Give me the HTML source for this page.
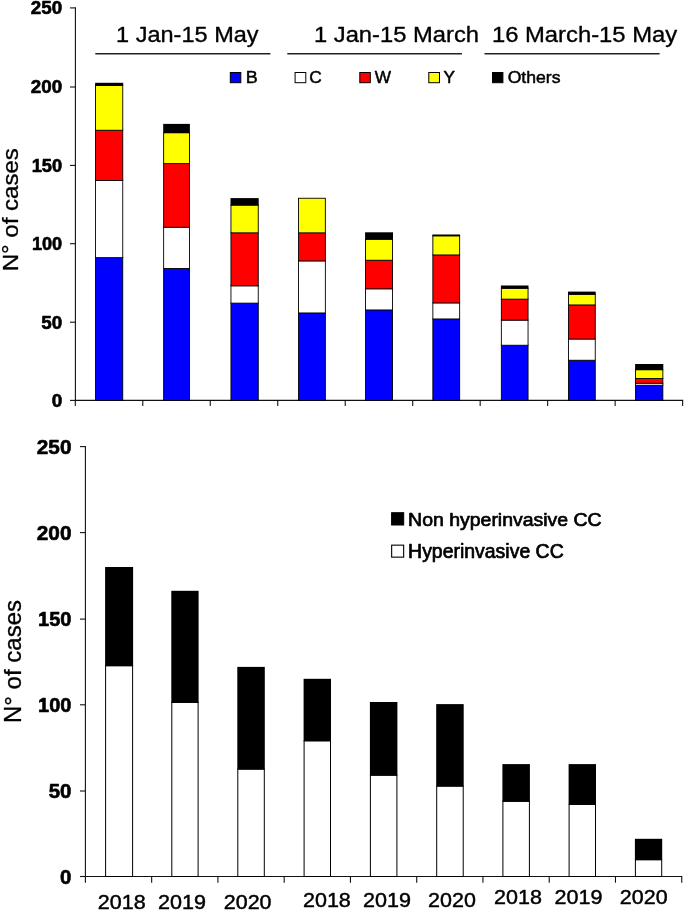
<!DOCTYPE html>
<html><head><meta charset="utf-8"><title>Cases chart</title>
<style>
html,body{margin:0;padding:0;background:#fff;}
svg{display:block;}
text{font-family:"Liberation Sans",sans-serif;fill:#000;stroke:#000;stroke-linejoin:round;}
</style></head><body>
<svg width="685" height="911" viewBox="0 0 685 911">
<rect x="0" y="0" width="685" height="911" fill="#fff"/>
<line x1="75.40" y1="7.30" x2="75.40" y2="401.00" stroke="#111" stroke-width="1.1"/>
<line x1="74.80" y1="400.40" x2="683.20" y2="400.40" stroke="#111" stroke-width="1.1"/>
<line x1="75.30" y1="400.40" x2="75.30" y2="406.00" stroke="#111" stroke-width="1.1"/>
<line x1="142.78" y1="400.40" x2="142.78" y2="406.00" stroke="#111" stroke-width="1.1"/>
<line x1="210.26" y1="400.40" x2="210.26" y2="406.00" stroke="#111" stroke-width="1.1"/>
<line x1="277.74" y1="400.40" x2="277.74" y2="406.00" stroke="#111" stroke-width="1.1"/>
<line x1="345.22" y1="400.40" x2="345.22" y2="406.00" stroke="#111" stroke-width="1.1"/>
<line x1="412.70" y1="400.40" x2="412.70" y2="406.00" stroke="#111" stroke-width="1.1"/>
<line x1="480.18" y1="400.40" x2="480.18" y2="406.00" stroke="#111" stroke-width="1.1"/>
<line x1="547.66" y1="400.40" x2="547.66" y2="406.00" stroke="#111" stroke-width="1.1"/>
<line x1="615.14" y1="400.40" x2="615.14" y2="406.00" stroke="#111" stroke-width="1.1"/>
<line x1="682.62" y1="400.40" x2="682.62" y2="406.00" stroke="#111" stroke-width="1.1"/>
<line x1="70.00" y1="7.90" x2="75.40" y2="7.90" stroke="#111" stroke-width="1.1"/>
<text transform="translate(30.84,14.20) scale(1.0436,1)" font-size="18.00" font-weight="bold" stroke-width="0.6">250</text>
<line x1="70.00" y1="87.00" x2="75.40" y2="87.00" stroke="#111" stroke-width="1.1"/>
<text transform="translate(30.84,93.30) scale(1.0436,1)" font-size="18.00" font-weight="bold" stroke-width="0.6">200</text>
<line x1="70.00" y1="165.40" x2="75.40" y2="165.40" stroke="#111" stroke-width="1.1"/>
<text transform="translate(31.70,171.70) scale(1.0141,1)" font-size="18.00" font-weight="bold" stroke-width="0.6">150</text>
<line x1="70.00" y1="243.70" x2="75.40" y2="243.70" stroke="#111" stroke-width="1.1"/>
<text transform="translate(31.91,250.00) scale(1.0070,1)" font-size="18.00" font-weight="bold" stroke-width="0.6">100</text>
<line x1="70.00" y1="322.20" x2="75.40" y2="322.20" stroke="#111" stroke-width="1.1"/>
<text transform="translate(41.24,328.50) scale(1.0462,1)" font-size="18.00" font-weight="bold" stroke-width="0.6">50</text>
<line x1="70.00" y1="400.40" x2="75.40" y2="400.40" stroke="#111" stroke-width="1.1"/>
<text transform="translate(51.64,406.70) scale(1.0538,1)" font-size="18.00" font-weight="bold" stroke-width="0.6">0</text>
<text transform="translate(18.20,271.27) rotate(-90) scale(1.0916,1)" font-size="22.03" stroke-width="0.3">N° of cases</text>
<rect x="95.55" y="257.55" width="27.20" height="142.90" fill="#0000ff" stroke="#000" stroke-width="0.9"/>
<rect x="95.55" y="180.35" width="27.20" height="77.30" fill="#ffffff" stroke="#000" stroke-width="0.9"/>
<rect x="95.55" y="130.15" width="27.20" height="50.30" fill="#ff0000" stroke="#000" stroke-width="0.9"/>
<rect x="95.55" y="85.35" width="27.20" height="44.90" fill="#ffff00" stroke="#000" stroke-width="0.9"/>
<rect x="95.10" y="82.80" width="28.10" height="3.10" fill="#000"/>
<rect x="163.65" y="268.35" width="25.80" height="132.10" fill="#0000ff" stroke="#000" stroke-width="0.9"/>
<rect x="163.65" y="227.15" width="25.80" height="41.30" fill="#ffffff" stroke="#000" stroke-width="0.9"/>
<rect x="163.65" y="163.55" width="25.80" height="63.70" fill="#ff0000" stroke="#000" stroke-width="0.9"/>
<rect x="163.65" y="132.65" width="25.80" height="31.00" fill="#ffff00" stroke="#000" stroke-width="0.9"/>
<rect x="163.20" y="123.90" width="26.70" height="9.30" fill="#000"/>
<rect x="230.95" y="303.05" width="27.30" height="97.40" fill="#0000ff" stroke="#000" stroke-width="0.9"/>
<rect x="230.95" y="285.75" width="27.30" height="17.40" fill="#ffffff" stroke="#000" stroke-width="0.9"/>
<rect x="230.95" y="232.75" width="27.30" height="53.10" fill="#ff0000" stroke="#000" stroke-width="0.9"/>
<rect x="230.95" y="205.05" width="27.30" height="27.80" fill="#ffff00" stroke="#000" stroke-width="0.9"/>
<rect x="230.50" y="198.10" width="28.20" height="7.50" fill="#000"/>
<rect x="298.55" y="312.85" width="26.80" height="87.60" fill="#0000ff" stroke="#000" stroke-width="0.9"/>
<rect x="298.55" y="260.85" width="26.80" height="52.10" fill="#ffffff" stroke="#000" stroke-width="0.9"/>
<rect x="298.55" y="232.75" width="26.80" height="28.20" fill="#ff0000" stroke="#000" stroke-width="0.9"/>
<rect x="298.55" y="198.25" width="26.80" height="34.60" fill="#ffff00" stroke="#000" stroke-width="0.9"/>
<rect x="365.55" y="309.85" width="27.00" height="90.60" fill="#0000ff" stroke="#000" stroke-width="0.9"/>
<rect x="365.55" y="288.75" width="27.00" height="21.20" fill="#ffffff" stroke="#000" stroke-width="0.9"/>
<rect x="365.55" y="260.15" width="27.00" height="28.70" fill="#ff0000" stroke="#000" stroke-width="0.9"/>
<rect x="365.55" y="239.25" width="27.00" height="21.00" fill="#ffff00" stroke="#000" stroke-width="0.9"/>
<rect x="365.10" y="232.30" width="27.90" height="7.50" fill="#000"/>
<rect x="432.85" y="318.85" width="26.80" height="81.60" fill="#0000ff" stroke="#000" stroke-width="0.9"/>
<rect x="432.85" y="302.85" width="26.80" height="16.10" fill="#ffffff" stroke="#000" stroke-width="0.9"/>
<rect x="432.85" y="254.85" width="26.80" height="48.10" fill="#ff0000" stroke="#000" stroke-width="0.9"/>
<rect x="432.85" y="235.75" width="26.80" height="19.20" fill="#ffff00" stroke="#000" stroke-width="0.9"/>
<rect x="432.40" y="234.50" width="27.70" height="1.80" fill="#000"/>
<rect x="501.35" y="345.15" width="26.70" height="55.30" fill="#0000ff" stroke="#000" stroke-width="0.9"/>
<rect x="501.35" y="320.05" width="26.70" height="25.20" fill="#ffffff" stroke="#000" stroke-width="0.9"/>
<rect x="501.35" y="299.05" width="26.70" height="21.10" fill="#ff0000" stroke="#000" stroke-width="0.9"/>
<rect x="501.35" y="288.25" width="26.70" height="10.90" fill="#ffff00" stroke="#000" stroke-width="0.9"/>
<rect x="500.90" y="285.50" width="27.60" height="3.30" fill="#000"/>
<rect x="568.45" y="360.15" width="26.80" height="40.30" fill="#0000ff" stroke="#000" stroke-width="0.9"/>
<rect x="568.45" y="338.95" width="26.80" height="21.30" fill="#ffffff" stroke="#000" stroke-width="0.9"/>
<rect x="568.45" y="304.85" width="26.80" height="34.20" fill="#ff0000" stroke="#000" stroke-width="0.9"/>
<rect x="568.45" y="294.25" width="26.80" height="10.70" fill="#ffff00" stroke="#000" stroke-width="0.9"/>
<rect x="568.00" y="291.60" width="27.70" height="3.20" fill="#000"/>
<rect x="635.55" y="385.15" width="27.30" height="15.30" fill="#0000ff" stroke="#000" stroke-width="0.9"/>
<rect x="635.55" y="383.15" width="27.30" height="2.10" fill="#ffffff" stroke="#000" stroke-width="0.9"/>
<rect x="635.55" y="378.45" width="27.30" height="4.80" fill="#ff0000" stroke="#000" stroke-width="0.9"/>
<rect x="635.55" y="369.65" width="27.30" height="8.90" fill="#ffff00" stroke="#000" stroke-width="0.9"/>
<rect x="635.10" y="364.00" width="28.20" height="6.20" fill="#000"/>
<text transform="translate(116.11,42.23) scale(1.0240,1)" font-size="22.97" stroke-width="0.35">1 Jan-15 May</text>
<text transform="translate(313.99,42.23) scale(1.0337,1)" font-size="22.97" stroke-width="0.35">1 Jan-15 March</text>
<text transform="translate(491.89,42.23) scale(1.0375,1)" font-size="22.97" stroke-width="0.35">16 March-15 May</text>
<line x1="95.30" y1="53.80" x2="270.40" y2="53.80" stroke="#222" stroke-width="1.4"/>
<line x1="287.30" y1="53.80" x2="461.90" y2="53.80" stroke="#222" stroke-width="1.4"/>
<line x1="484.50" y1="53.80" x2="659.60" y2="53.80" stroke="#222" stroke-width="1.4"/>
<rect x="230.30" y="72.50" width="10.50" height="10.20" fill="#0000ff" stroke="#000" stroke-width="1.0"/>
<text transform="translate(245.71,83.10) scale(1.0361,1)" font-size="17.32" stroke-width="0.5">B</text>
<rect x="295.10" y="72.50" width="10.70" height="10.20" fill="#ffffff" stroke="#000" stroke-width="1.0"/>
<text transform="translate(309.18,83.10) scale(1.0002,1)" font-size="17.32" stroke-width="0.5">C</text>
<rect x="359.80" y="72.50" width="10.50" height="10.20" fill="#ff0000" stroke="#000" stroke-width="1.0"/>
<text transform="translate(374.65,83.10) scale(0.9959,1)" font-size="17.32" stroke-width="0.5">W</text>
<rect x="428.80" y="72.50" width="10.70" height="10.20" fill="#ffff00" stroke="#000" stroke-width="1.0"/>
<text transform="translate(443.51,83.10) scale(0.9885,1)" font-size="17.32" stroke-width="0.5">Y</text>
<rect x="492.50" y="72.50" width="10.40" height="10.20" fill="#000000" stroke="#000" stroke-width="1.0"/>
<text transform="translate(507.66,83.10) scale(1.0180,1)" font-size="17.32" stroke-width="0.5">Others</text>
<line x1="85.40" y1="445.90" x2="85.40" y2="877.10" stroke="#111" stroke-width="1.1"/>
<line x1="84.80" y1="876.50" x2="682.30" y2="876.50" stroke="#111" stroke-width="1.1"/>
<line x1="85.40" y1="876.50" x2="85.40" y2="882.70" stroke="#111" stroke-width="1.1"/>
<line x1="151.66" y1="876.50" x2="151.66" y2="882.70" stroke="#111" stroke-width="1.1"/>
<line x1="217.92" y1="876.50" x2="217.92" y2="882.70" stroke="#111" stroke-width="1.1"/>
<line x1="284.18" y1="876.50" x2="284.18" y2="882.70" stroke="#111" stroke-width="1.1"/>
<line x1="350.44" y1="876.50" x2="350.44" y2="882.70" stroke="#111" stroke-width="1.1"/>
<line x1="416.70" y1="876.50" x2="416.70" y2="882.70" stroke="#111" stroke-width="1.1"/>
<line x1="482.96" y1="876.50" x2="482.96" y2="882.70" stroke="#111" stroke-width="1.1"/>
<line x1="549.22" y1="876.50" x2="549.22" y2="882.70" stroke="#111" stroke-width="1.1"/>
<line x1="615.48" y1="876.50" x2="615.48" y2="882.70" stroke="#111" stroke-width="1.1"/>
<line x1="681.74" y1="876.50" x2="681.74" y2="882.70" stroke="#111" stroke-width="1.1"/>
<line x1="80.00" y1="446.60" x2="85.40" y2="446.60" stroke="#111" stroke-width="1.1"/>
<text transform="translate(36.78,453.80) scale(1.0245,1)" font-size="20.29" font-weight="bold" stroke-width="0.6">250</text>
<line x1="80.00" y1="532.60" x2="85.40" y2="532.60" stroke="#111" stroke-width="1.1"/>
<text transform="translate(36.78,539.80) scale(1.0245,1)" font-size="20.29" font-weight="bold" stroke-width="0.6">200</text>
<line x1="80.00" y1="619.10" x2="85.40" y2="619.10" stroke="#111" stroke-width="1.1"/>
<text transform="translate(38.00,626.30) scale(0.9876,1)" font-size="20.29" font-weight="bold" stroke-width="0.6">150</text>
<line x1="80.00" y1="704.80" x2="85.40" y2="704.80" stroke="#111" stroke-width="1.1"/>
<text transform="translate(38.10,712.00) scale(0.9845,1)" font-size="20.29" font-weight="bold" stroke-width="0.6">100</text>
<line x1="80.00" y1="791.00" x2="85.40" y2="791.00" stroke="#111" stroke-width="1.1"/>
<text transform="translate(48.69,798.20) scale(1.0084,1)" font-size="20.29" font-weight="bold" stroke-width="0.6">50</text>
<line x1="80.00" y1="876.50" x2="85.40" y2="876.50" stroke="#111" stroke-width="1.1"/>
<text transform="translate(60.09,883.70) scale(1.0062,1)" font-size="20.29" font-weight="bold" stroke-width="0.6">0</text>
<text transform="translate(21.25,722.97) rotate(-90) scale(1.0221,1)" font-size="23.48" stroke-width="0.3">N° of cases</text>
<rect x="105.60" y="665.70" width="27.00" height="210.80" fill="#ffffff" stroke="#000" stroke-width="1.0"/>
<rect x="105.10" y="567.00" width="28.00" height="99.20" fill="#000"/>
<rect x="171.80" y="702.40" width="26.30" height="174.10" fill="#ffffff" stroke="#000" stroke-width="1.0"/>
<rect x="171.30" y="590.80" width="27.30" height="112.10" fill="#000"/>
<rect x="237.80" y="769.10" width="26.50" height="107.40" fill="#ffffff" stroke="#000" stroke-width="1.0"/>
<rect x="237.30" y="666.90" width="27.50" height="102.70" fill="#000"/>
<rect x="304.10" y="740.80" width="26.40" height="135.70" fill="#ffffff" stroke="#000" stroke-width="1.0"/>
<rect x="303.60" y="678.80" width="27.40" height="62.50" fill="#000"/>
<rect x="370.40" y="775.20" width="26.50" height="101.30" fill="#ffffff" stroke="#000" stroke-width="1.0"/>
<rect x="369.90" y="702.00" width="27.50" height="73.70" fill="#000"/>
<rect x="436.70" y="786.10" width="26.50" height="90.40" fill="#ffffff" stroke="#000" stroke-width="1.0"/>
<rect x="436.20" y="704.10" width="27.50" height="82.50" fill="#000"/>
<rect x="502.90" y="801.30" width="26.50" height="75.20" fill="#ffffff" stroke="#000" stroke-width="1.0"/>
<rect x="502.40" y="764.10" width="27.50" height="37.70" fill="#000"/>
<rect x="569.10" y="804.40" width="26.40" height="72.10" fill="#ffffff" stroke="#000" stroke-width="1.0"/>
<rect x="568.60" y="764.10" width="27.40" height="40.80" fill="#000"/>
<rect x="635.40" y="859.70" width="26.30" height="16.80" fill="#ffffff" stroke="#000" stroke-width="1.0"/>
<rect x="634.90" y="838.80" width="27.30" height="21.40" fill="#000"/>
<rect x="391.60" y="512.70" width="12.10" height="12.30" fill="#000000" stroke="#000" stroke-width="1.0"/>
<rect x="391.65" y="545.15" width="12.00" height="12.00" fill="#ffffff" stroke="#000" stroke-width="1.1"/>
<text transform="translate(408.09,525.85) scale(1.0254,1)" font-size="18.99" stroke-width="0.7">Non hyperinvasive CC</text>
<text transform="translate(408.09,558.05) scale(1.0086,1)" font-size="19.28" stroke-width="0.7">Hyperinvasive CC</text>
<text transform="translate(97.85,908.67) scale(1.0221,1)" font-size="21.07" stroke-width="0.45">2018</text>
<text transform="translate(158.10,908.67) scale(1.0245,1)" font-size="21.07" stroke-width="0.45">2019</text>
<text transform="translate(223.75,908.67) scale(1.0197,1)" font-size="21.07" stroke-width="0.45">2020</text>
<text transform="translate(302.95,906.67) scale(1.0221,1)" font-size="21.07" stroke-width="0.45">2018</text>
<text transform="translate(363.05,906.67) scale(1.0245,1)" font-size="21.07" stroke-width="0.45">2019</text>
<text transform="translate(428.05,906.67) scale(1.0197,1)" font-size="21.07" stroke-width="0.45">2020</text>
<text transform="translate(494.05,903.57) scale(1.0221,1)" font-size="21.07" stroke-width="0.45">2018</text>
<text transform="translate(554.40,903.57) scale(1.0245,1)" font-size="21.07" stroke-width="0.45">2019</text>
<text transform="translate(619.85,903.57) scale(1.0197,1)" font-size="21.07" stroke-width="0.45">2020</text>
</svg>
</body></html>
